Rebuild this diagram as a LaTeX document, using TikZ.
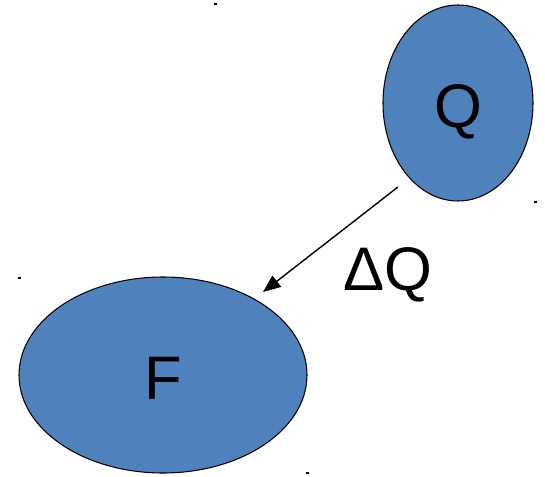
\documentclass[tikz,border=0pt]{standalone}
\usepackage{fontspec}
\setmainfont{Liberation Sans}
\usetikzlibrary{arrows.meta, shapes.geometric}
\definecolor{blob}{HTML}{4F81BD}
\tikzset{
  blobnode/.style={ellipse, draw=black, line width=0.6pt, fill=blob, inner sep=0pt},
  big/.style={font=\fontsize{35}{35}\selectfont},
  tick/.style={fill=black}
}

\begin{document}
\begin{tikzpicture}[x=0.02cm, y=-0.02cm]
\useasboundingbox (0,0) rectangle (545,477);
\node[blobnode, minimum width=150*0.02cm, minimum height=196*0.02cm] (q) at (458,103) {};
\node[blobnode, minimum width=288*0.02cm, minimum height=196*0.02cm] (f) at (163,375) {};
\node[big] at ([yshift=-0.18cm]q.center) {Q};
\node[big] at ([yshift=-0.06cm]f.center) {F};
\node[big] (dq) at (388,275) {ΔQ};
\coordinate (qout) at (398,187);
\coordinate (fin) at (263,292);
\draw[-{Triangle[length=10pt, width=8pt]}, line width=0.8pt] (qout) -- (fin);
% corner marks
\fill[tick] (214,3) rectangle (217,5);
\fill[tick] (534,201) rectangle (537,203);
\fill[tick] (18,277) rectangle (21,279);
\fill[tick] (306,472) rectangle (309,474);
\end{tikzpicture}
\end{document}
